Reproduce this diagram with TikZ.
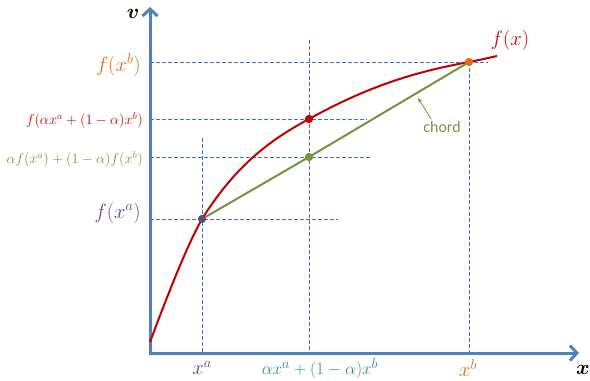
\documentclass[tikz,border=0pt]{standalone}
\usepackage{bm}
\usepackage{fontspec}
\setsansfont{Carlito}
\usetikzlibrary{arrows.meta}
\definecolor{axblue}{RGB}{79,129,189}
\definecolor{dblue}{RGB}{68,114,196}
\definecolor{cred}{RGB}{192,0,0}
\definecolor{cgreen}{RGB}{119,147,60}
\definecolor{corange}{RGB}{228,108,10}
\definecolor{cpurple}{RGB}{96,74,123}
\definecolor{cteal}{RGB}{49,133,156}
\tikzset{
  axis/.style={draw=axblue, line width=3bp, -{Straight Barb[length=7bp,width=15bp]}},
  guide/.style={draw=dblue, line width=0.9bp, dash pattern=on 4bp off 2bp},
  dot/.style={circle, inner sep=0pt, minimum size=8bp},
  big/.style={font=\fontsize{20}{24}\selectfont, inner sep=0pt},
  mid/.style={font=\fontsize{19}{23}\selectfont, inner sep=0pt},
  small/.style={font=\fontsize{14}{17}\selectfont, inner sep=0pt},
}
\begin{document}
\begin{tikzpicture}[x=1bp,y=-1bp]
\useasboundingbox (0,0) rectangle (590,380);
% coordinates
\coordinate (O) at (150,353);
\coordinate (Ytop) at (150,7);
\coordinate (Xend) at (579,353);
\coordinate (ya) at (150,219);
\coordinate (ym) at (150,119);
\coordinate (yg) at (150,157);
\coordinate (yb) at (150,62);
\coordinate (ea) at (338,219);
\coordinate (em) at (367,119);
\coordinate (eg) at (370,157);
\coordinate (eb) at (488,62);
\coordinate (xa) at (202,353);
\coordinate (xm) at (309,353);
\coordinate (xb) at (469,353);
\coordinate (ta) at (202,138);
\coordinate (tm) at (309,40);
\coordinate (C0) at (150,342);
\coordinate (C1) at (497,56);
% guides
\draw[guide] (yb) -- (eb);
\draw[guide] (ym) -- (em);
\draw[guide] (yg) -- (eg);
\draw[guide] (ya) -- (ea);
\draw[guide] (ta) -- (xa);
\draw[guide] (tm) -- (xm);
\draw[guide] (469,62) -- (xb);
% axes
\draw[axis] (150,354) -- (Ytop);
\draw[axis] (149,353) -- (Xend);
% points
\node[dot, fill=cpurple] (A) at (202,219) {};
\node[dot, fill=cred] (M) at (309,119) {};
\node[dot, fill=cgreen] (G) at (309,157) {};
\node[dot, fill=corange] (B) at (469,62) {};
% curve
\draw[cred, line width=2bp] (C0) .. controls (165,302) and (186,247) .. (A.center)
  .. controls (236,165) and (270,140) .. (M.center)
  .. controls (372,84) and (420,71) .. (B.center)
  .. controls (478,60.3) and (488,58) .. (C1);
% chord
\draw[cgreen, line width=2bp] (A.center) -- (G.center) -- (B.center);
\node[dot, fill=cpurple] at (A) {};
\node[dot, fill=cred] at (M) {};
\node[dot, fill=cgreen] at (G) {};
\node[dot, fill=corange] at (B) {};
% labels
\node[big, text=corange, anchor=east] (lb) at (141,65) {$f(x^b)$};
\node[small, text=cred, anchor=east] (lm) at (143,120) {$f(\alpha x^a+(1-\alpha)x^b)$};
\node[small, text=cgreen, anchor=east] (lg) at (143,159) {$\alpha f(x^a)+(1-\alpha)f(x^b)$};
\node[big, text=cpurple, anchor=east] (la) at (141,213) {$f(x^a)$};
\node[big, text=cpurple] (lxa) at (202,368) {$x^a$};
\node[mid, text=cteal] (lxm) at (320,369) {$\alpha x^a+(1-\alpha)x^b$};
\node[big, text=corange] (lxb) at (468,368) {$x^b$};
\node[big] (lv) at (133,14) {$\bm{v}$};
\node[big] (lx) at (583,370) {$\bm{x}$};
\node[big, text=cred] (lf) at (510,40) {$f(x)$};
\node[text=cgreen, font=\sffamily\fontsize{16}{19}\selectfont, inner sep=0pt] (ch) at (442,127) {chord};
\coordinate (chtip) at (418,98);
\draw[cgreen, line width=0.8bp, -{Stealth[length=5bp,width=4bp]}] (ch.north west) ++(8,-2) -- (chtip);
\end{tikzpicture}
\end{document}
